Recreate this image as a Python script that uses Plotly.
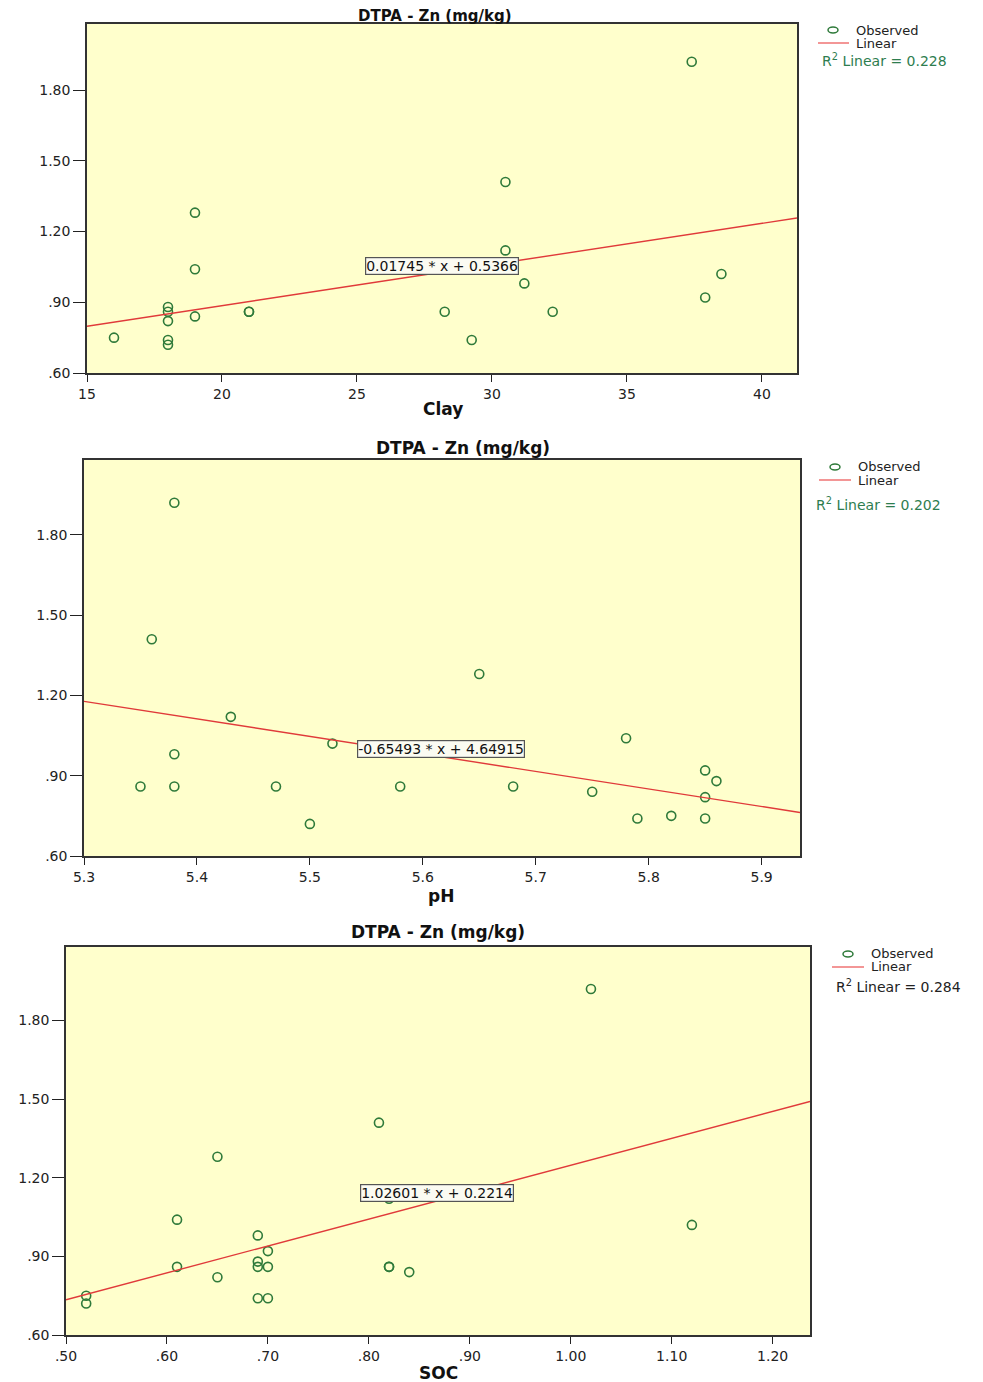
import plotly.graph_objects as go

W, H = 983, 1382
OFF = 8  # page body margin in the browser

# ---------------- data ----------------
clay = [37.4, 30.5, 19, 30.5, 19, 38.5, 31.2, 37.9, 18, 18, 21, 21, 19, 28.25, 32.25, 18, 16, 18, 18, 29.25]
zn_clay = [1.92, 1.41, 1.28, 1.12, 1.04, 1.02, 0.98, 0.92, 0.88, 0.86, 0.86, 0.86, 0.84, 0.86, 0.86, 0.82, 0.75, 0.74, 0.72, 0.74]

ph = [5.38, 5.36, 5.65, 5.43, 5.78, 5.52, 5.38, 5.85, 5.86, 5.35, 5.38, 5.47, 5.58, 5.68, 5.75, 5.85, 5.50, 5.79, 5.82, 5.85]
zn_ph = [1.92, 1.41, 1.28, 1.12, 1.04, 1.02, 0.98, 0.92, 0.88, 0.86, 0.86, 0.86, 0.86, 0.86, 0.84, 0.82, 0.72, 0.74, 0.75, 0.74]

soc = [1.02, 0.81, 0.65, 0.82, 0.61, 1.12, 0.69, 0.70, 0.69, 0.69, 0.70, 0.61, 0.82, 0.82, 0.84, 0.65, 0.52, 0.52, 0.69, 0.70]
zn_soc = [1.92, 1.41, 1.28, 1.12, 1.04, 1.02, 0.98, 0.92, 0.88, 0.86, 0.86, 0.86, 0.86, 0.86, 0.84, 0.82, 0.75, 0.72, 0.74, 0.74]

slopes = [0.01745, -0.65493, 1.02601]
intercepts = [0.5366, 4.64915, 0.2214]
equations = ["0.01745 * x + 0.5366", "-0.65493 * x + 4.64915", "1.02601 * x + 0.2214"]
r2_labels = ["R<sup>2</sup> Linear = 0.228", "R<sup>2</sup> Linear = 0.202", "R<sup>2</sup> Linear = 0.284"]
x_titles = ["Clay", "pH", "SOC"]
chart_title = "DTPA - Zn (mg/kg)"

y_tickvals = [0.6, 0.9, 1.2, 1.5, 1.8]
y_ticktext = [".60", ".90", "1.20", "1.50", "1.80"]
x1_tickvals = [15, 20, 25, 30, 35, 40]
x1_ticktext = ["15", "20", "25", "30", "35", "40"]
x2_tickvals = [5.3, 5.4, 5.5, 5.6, 5.7, 5.8, 5.9]
x2_ticktext = ["5.3", "5.4", "5.5", "5.6", "5.7", "5.8", "5.9"]
x3_tickvals = [0.5, 0.6, 0.7, 0.8, 0.9, 1.0, 1.1, 1.2]
x3_ticktext = [".50", ".60", ".70", ".80", ".90", "1.00", "1.10", "1.20"]

# ---------------- layout geometry (pixels in the reference) ----------------
panels = [
    dict(x=clay, y=zn_clay, xr=[15, 41.3], px=(87, 797), py=(24, 373),
         tv=x1_tickvals, tt=x1_ticktext, title_xy=(435, 16), title_size=15, xt_xy=(443, 409),
         eq_xy=(442, 266), leg=dict(cx=833, cy=30, oy=30, lx0=818, lx1=849, ly=43, tx=854, r2x=820, r2y=60, r2c="#2E7D4F")),
    dict(x=ph, y=zn_ph, xr=[5.3, 5.934], px=(84, 800), py=(460, 856),
         tv=x2_tickvals, tt=x2_ticktext, title_xy=(463, 448), title_size=17, xt_xy=(441, 896),
         eq_xy=(441, 749), leg=dict(cx=835, cy=467, oy=467, lx0=819, lx1=851, ly=480, tx=856, r2x=814, r2y=504, r2c="#2E7D4F")),
    dict(x=soc, y=zn_soc, xr=[0.5, 1.237], px=(66, 810), py=(947, 1335),
         tv=x3_tickvals, tt=x3_ticktext, title_xy=(438, 932), title_size=17, xt_xy=(438, 1373),
         eq_xy=(437, 1193), leg=dict(cx=848, cy=954, oy=953, lx0=832, lx1=864, ly=967, tx=869, r2x=834, r2y=986, r2c="#222222")),
]

FONT = "DejaVu Sans"
GREEN = "#2F7A3A"
RED = "#E03A3A"
BG = "#FFFFCC"


def fx(p):
    return (p - OFF) / W


def fy(p):
    return 1 - (p - OFF) / H


fig = go.Figure()
annotations = []
shapes = []

for i, p in enumerate(panels):
    n = "" if i == 0 else str(i + 1)
    xa, ya = "x" + n, "y" + n
    fig.add_trace(go.Scatter(
        x=p["x"], y=p["y"], mode="markers", xaxis=xa, yaxis=ya, showlegend=False,
        marker=dict(symbol="circle-open", size=9, color=GREEN, line=dict(width=1.6, color=GREEN)),
        hoverinfo="skip"))
    xl = p["xr"]
    yl = [slopes[i] * v + intercepts[i] for v in xl]
    fig.add_trace(go.Scatter(
        x=xl, y=yl, mode="lines", xaxis=xa, yaxis=ya, showlegend=False,
        line=dict(color=RED, width=1.4), hoverinfo="skip"))

    axis_common = dict(showline=True, linecolor="#333333", linewidth=1.5, mirror=True,
                       showgrid=False, zeroline=False, ticks="outside", tickcolor="#222222",
                       tickwidth=1.2, automargin=False,
                       tickfont=dict(family=FONT, size=14, color="#222222"))
    fig.update_layout(**{
        "xaxis" + n: dict(domain=[fx(p["px"][0]), fx(p["px"][1])], range=xl, anchor=ya,
                          tickvals=p["tv"], ticktext=p["tt"], ticklen=7, **axis_common),
        "yaxis" + n: dict(domain=[fy(p["py"][1]), fy(p["py"][0])], range=[0.6, 2.08], anchor=xa,
                          tickvals=y_tickvals, ticktext=y_ticktext, ticklen=12, **axis_common),
    })
    # plot background
    shapes.append(dict(type="rect", xref="paper", yref="paper", layer="below",
                       x0=fx(p["px"][0]), x1=fx(p["px"][1]), y0=fy(p["py"][1]), y1=fy(p["py"][0]),
                       fillcolor=BG, line=dict(width=0)))
    # title
    annotations.append(dict(xref="paper", yref="paper", x=fx(p["title_xy"][0]), y=fy(p["title_xy"][1]),
                            text="<b>" + chart_title + "</b>", showarrow=False,
                            xanchor="center", yanchor="middle",
                            font=dict(family=FONT, size=p["title_size"], color="#111111")))
    # x axis title
    annotations.append(dict(xref="paper", yref="paper", x=fx(p["xt_xy"][0]), y=fy(p["xt_xy"][1]),
                            text="<b>" + x_titles[i] + "</b>", showarrow=False,
                            xanchor="center", yanchor="middle",
                            font=dict(family=FONT, size=17, color="#111111")))
    # equation box
    annotations.append(dict(xref="paper", yref="paper", x=fx(p["eq_xy"][0]), y=fy(p["eq_xy"][1]),
                            text=equations[i], showarrow=False, xanchor="center", yanchor="middle",
                            bgcolor="#FBFBF2", bordercolor="#555555", borderwidth=1.2, borderpad=0,
                            font=dict(family=FONT, size=14, color="#111111")))
    # legend
    lg = p["leg"]
    shapes.append(dict(type="circle", xref="paper", yref="paper",
                       x0=fx(lg["cx"] - 5), x1=fx(lg["cx"] + 5), y0=fy(lg["cy"] + 3), y1=fy(lg["cy"] - 3),
                       line=dict(color=GREEN, width=1.5)))
    shapes.append(dict(type="line", xref="paper", yref="paper",
                       x0=fx(lg["lx0"]), x1=fx(lg["lx1"]), y0=fy(lg["ly"]), y1=fy(lg["ly"]),
                       line=dict(color="#F07C7C", width=1.6)))
    annotations.append(dict(xref="paper", yref="paper", x=fx(lg["tx"]), y=fy(lg["oy"]),
                            text="Observed", showarrow=False, xanchor="left", yanchor="middle",
                            font=dict(family=FONT, size=13, color="#222222")))
    annotations.append(dict(xref="paper", yref="paper", x=fx(lg["tx"]), y=fy(lg["ly"]),
                            text="Linear", showarrow=False, xanchor="left", yanchor="middle",
                            font=dict(family=FONT, size=13, color="#222222")))
    annotations.append(dict(xref="paper", yref="paper", x=fx(lg["r2x"]), y=fy(lg["r2y"]),
                            text=r2_labels[i], showarrow=False, xanchor="left", yanchor="middle",
                            font=dict(family=FONT, size=14, color=lg["r2c"])))

fig.update_layout(width=W, height=H, margin=dict(l=0, r=0, t=0, b=0, autoexpand=False),
                  paper_bgcolor="white", plot_bgcolor="rgba(0,0,0,0)",
                  annotations=annotations, shapes=shapes, showlegend=False)

fig.write_html("out.html")
